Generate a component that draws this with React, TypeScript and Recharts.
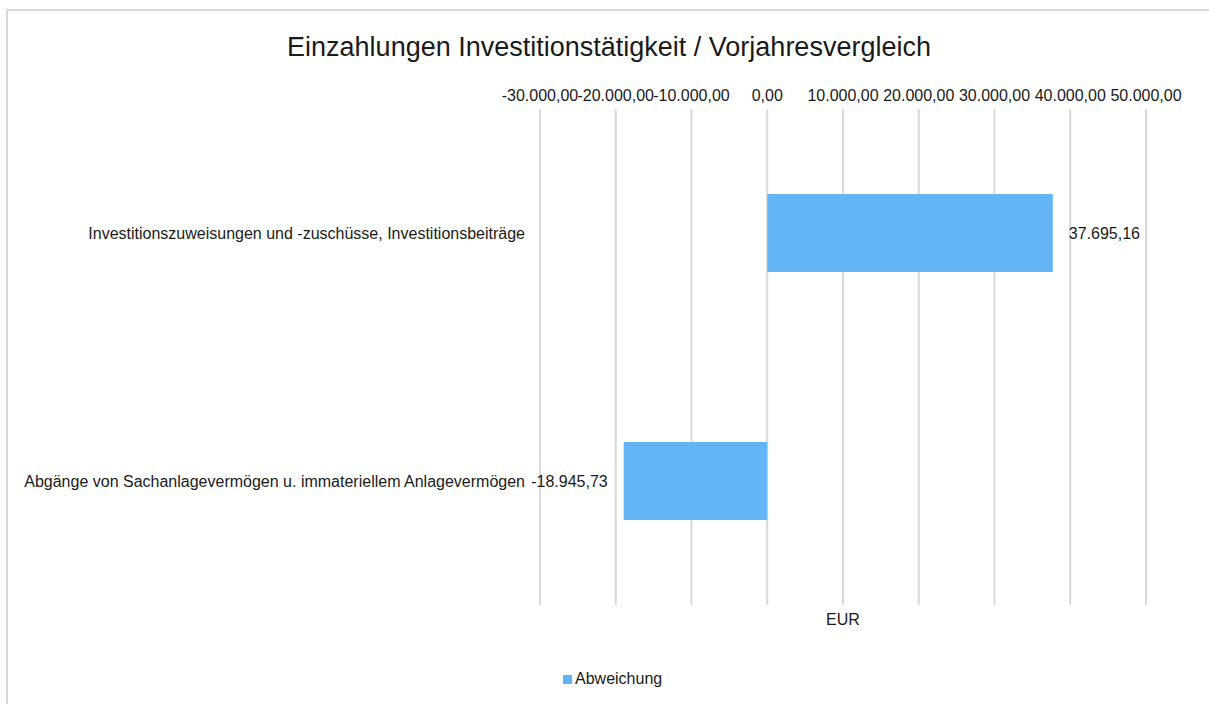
import React from 'react';
import { BarChart, Bar, XAxis, YAxis, CartesianGrid, LabelList } from 'recharts';

const categories: string[] = [
  'Investitionszuweisungen und -zuschüsse, Investitionsbeiträge',
  'Abgänge von Sachanlagevermögen u. immateriellem Anlagevermögen',
];
const abweichung: number[] = [37695.16, -18945.73];
const xTicks: number[] = [-30000, -20000, -10000, 0, 10000, 20000, 30000, 40000, 50000];
const seriesName = 'Abweichung';
const chartTitle = 'Einzahlungen Investitionstätigkeit / Vorjahresvergleich';
const unitLabel = 'EUR';

const data = categories.map((name, i) => ({ name, value: abweichung[i] }));

const FONT = '"Liberation Sans", Arial, Helvetica, sans-serif';
const BLUE = '#64b5f6';
const GRID = '#d9d9d9';
const TEXT = '#1a1a1a';

const fmt = (v: number): string => {
  const neg = v < 0;
  const [i, d] = Math.abs(v).toFixed(2).split('.');
  const ii = i.replace(/\B(?=(\d{3})+(?!\d))/g, '.');
  return (neg ? '-' : '') + ii + ',' + d;
};

const ValueLabel = (props: any) => {
  const { x, y, width, height, value } = props;
  const left = Math.min(x, x + width);
  const right = Math.max(x, x + width);
  const cy = y + height / 2;
  const pos = value >= 0;
  return (
    <text
      x={pos ? right + 16 : left - 16}
      y={cy}
      dy="0.35em"
      textAnchor={pos ? 'start' : 'end'}
      fontSize={16}
      fontFamily={FONT}
      fill={TEXT}
    >
      {fmt(value)}
    </text>
  );
};

export default function App() {
  return (
    <div style={{ position: 'fixed', left: 0, top: 0, width: 1209, height: 704, overflow: 'hidden', background: '#fff', fontFamily: FONT }}>
      <div style={{ position: 'absolute', left: 6, top: 9, width: 1400, height: 900, borderLeft: `2px solid ${GRID}`, borderTop: `2px solid ${GRID}`, boxSizing: 'border-box' }} />
      <div style={{ position: 'absolute', left: 0, top: 0 }}>
        <BarChart
          width={1209}
          height={704}
          data={data}
          layout="vertical"
          margin={{ top: 70, right: 63, bottom: 99, left: 0 }}
        >
          <CartesianGrid horizontal={false} vertical={true} stroke={GRID} strokeWidth={2} />
          <XAxis
            type="number"
            orientation="top"
            domain={[-30000, 50000]}
            ticks={xTicks}
            tickFormatter={fmt}
            height={39}
            tickLine={false}
            axisLine={false}
            interval={0}
            tick={{ fontSize: 16, fontFamily: FONT, fill: TEXT }}
          />
          <YAxis
            type="category"
            dataKey="name"
            width={540}
            tickLine={false}
            axisLine={false}
            tickMargin={9}
            tick={{ fontSize: 16, fontFamily: FONT, fill: TEXT }}
          />
          <Bar dataKey="value" name={seriesName} fill={BLUE} barSize={78} isAnimationActive={false}>
            <LabelList dataKey="value" content={ValueLabel} />
          </Bar>
        </BarChart>
      </div>
      <div style={{ position: 'absolute', left: 0, width: 1218, top: 31, textAlign: 'center', fontSize: 27, color: TEXT, lineHeight: '32px', whiteSpace: 'nowrap' }}>
        {chartTitle}
      </div>
      <div style={{ position: 'absolute', left: 743, width: 200, top: 610, textAlign: 'center', fontSize: 16, color: TEXT, lineHeight: '20px' }}>
        {unitLabel}
      </div>
      <div style={{ position: 'absolute', left: 563, top: 669, display: 'flex', alignItems: 'center', fontSize: 16, color: TEXT, lineHeight: '20px' }}>
        <span style={{ display: 'inline-block', width: 9, height: 9, background: BLUE, marginRight: 3 }} />
        <span>{seriesName}</span>
      </div>
    </div>
  );
}
